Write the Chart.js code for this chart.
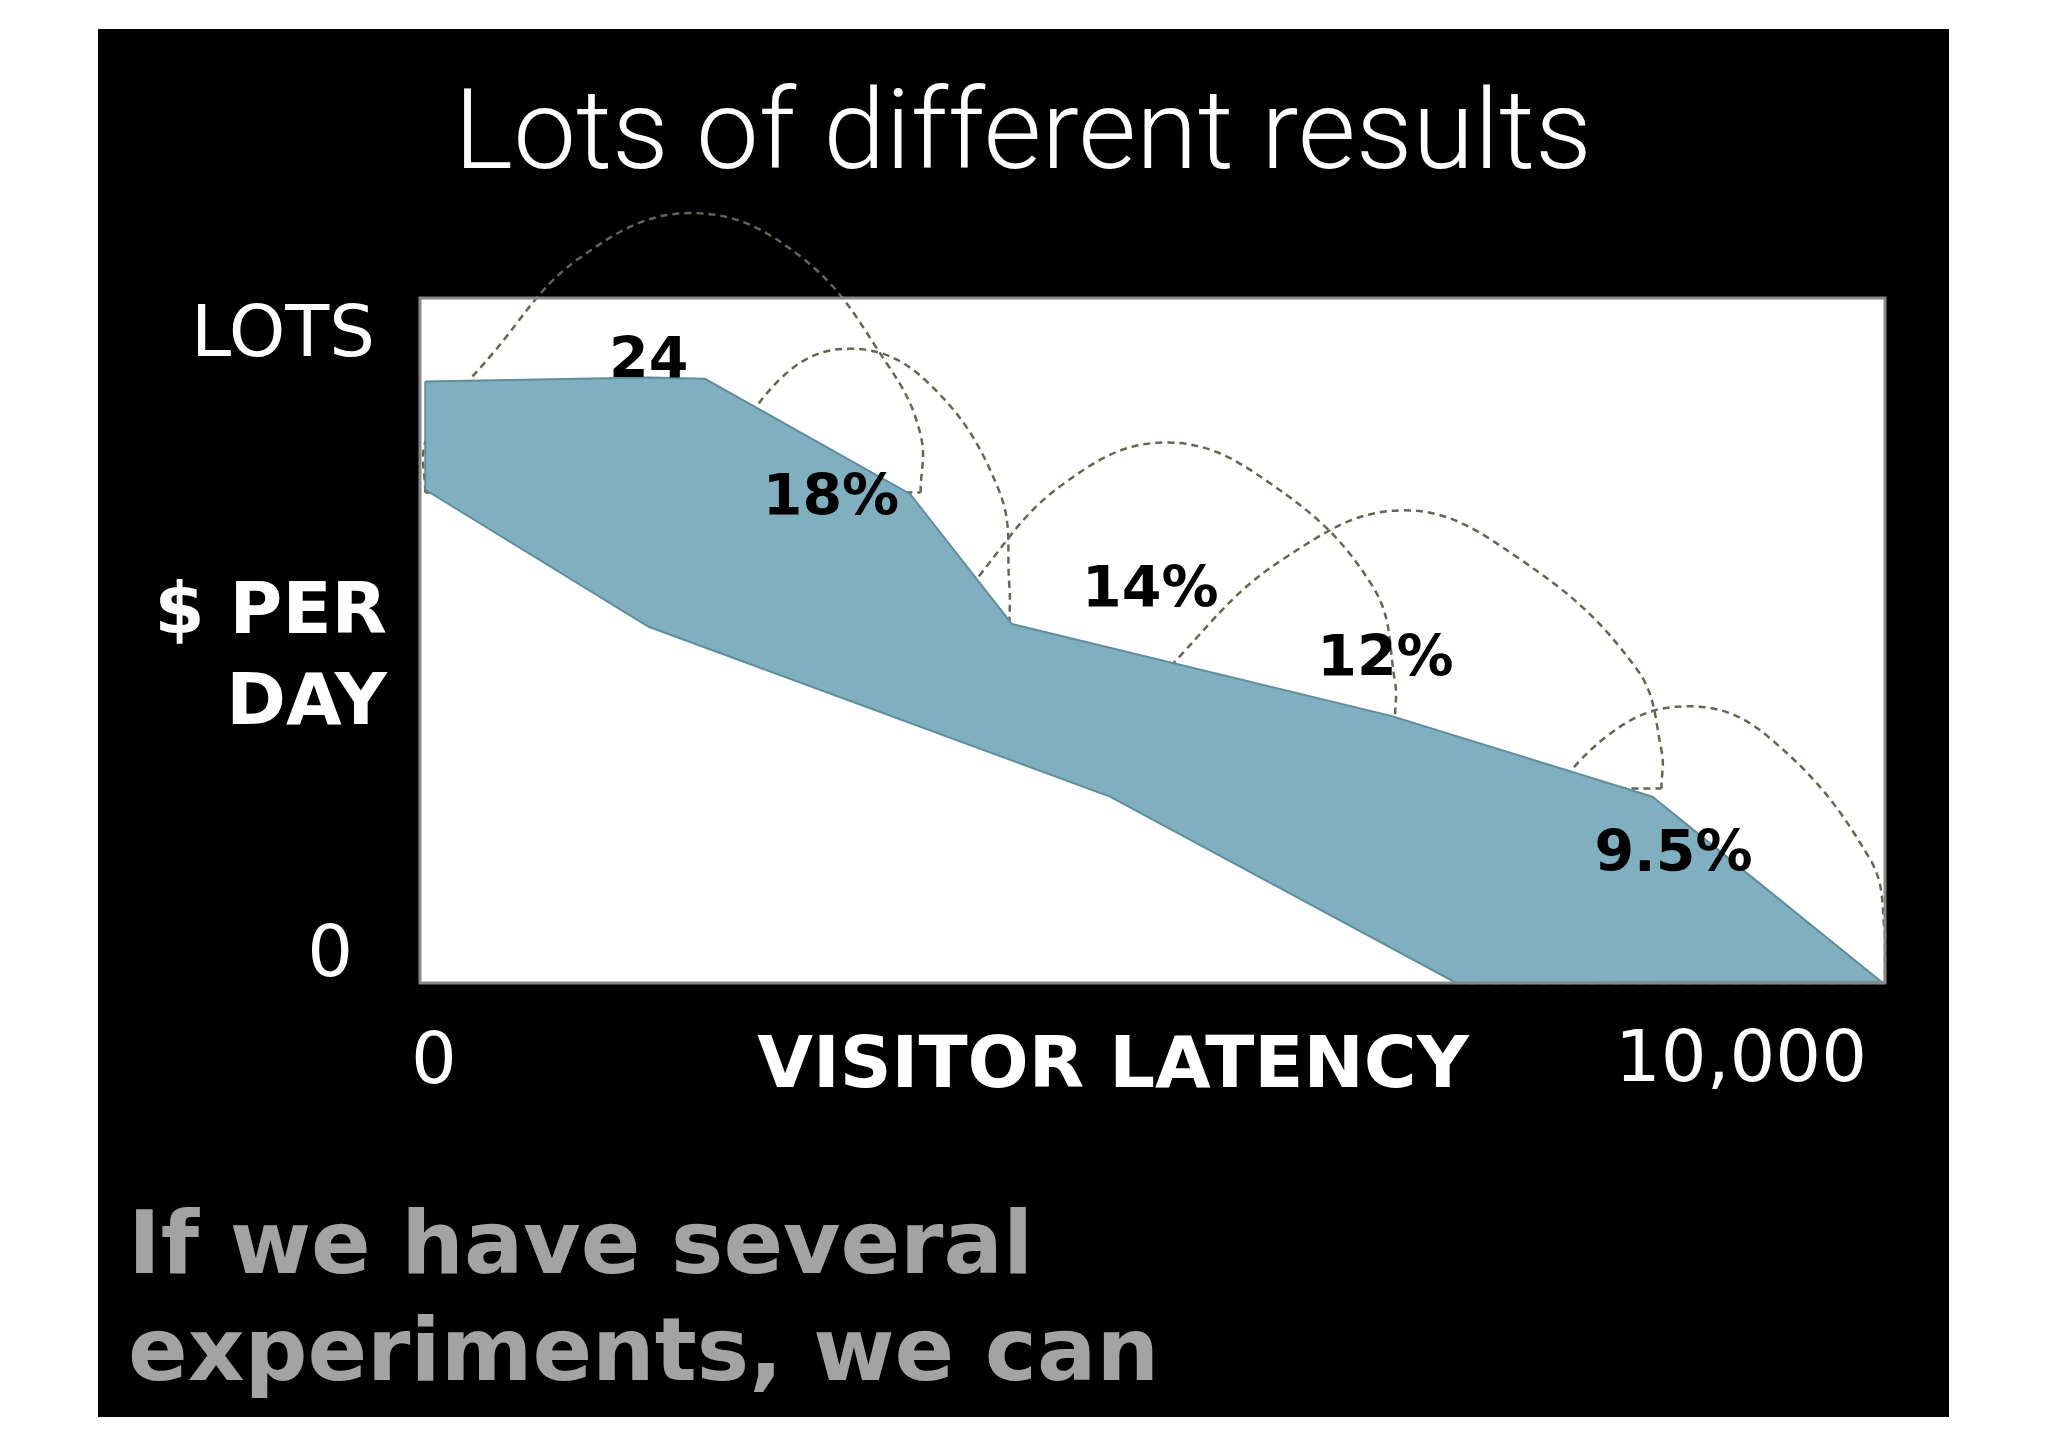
<!DOCTYPE html>
<html><head><meta charset="utf-8">
<script src="https://cdn.jsdelivr.net/npm/chart.js@4"></script>
<style>html,body{margin:0;padding:0;background:#fff}</style>
</head><body>
<canvas id="c" width="2048" height="1447"></canvas>
<script>
// Blue band (x = latency 0..10000, y = $ per day 0..100)
const bandX = [36,1561,1945,3345,4041,6628,8412,9973,7074,4710,1561,36,36];
const bandY = [87.8,88.4,88.2,71.4,52.4,39.0,27.2,0.2,0,27.2,52,72,87.8];
// Experiment bell curves
const bellX = [
 [36,36,500,1100,1855,2600,3200,3417,3417],
 [1561,1600,2000,2450,2926,3450,3950,4023,4023],
 [3283,3300,3800,4400,5093,5800,6500,6655,6655],
 [4665,4700,5200,5900,6717,7500,8300,8474,8474],
 [7074,7100,7550,8100,8653,9200,9900,10000,10000]
];
const bellY = [
 [71.6,79,92,106,112.4,106,90,80,71.6],
 [52,58,73,88,92.6,88,72,58,52],
 [38.5,44,59,73,78.9,73,58,44,38.5],
 [28.4,34,48,62,69,62,46,34,28.4],
 [0,7,22,36,40.4,36,18,7,0]
];
const pctLabels = ["24","18%","14%","12%","9.5%"];
const pctX = [1561,2805,4985,6590,8556];
const pctY = [90.5,70.5,57,47,18.5];

const pts=(xs,ys)=>xs.map((x,i)=>({x,y:ys[i]}));
const datasets=[{data:pts(bandX,bandY),fill:'shape',backgroundColor:'#80afbf',borderColor:'#5e8d9c',borderWidth:2,pointRadius:0,tension:0}];
bellX.forEach((xs,i)=>{
  datasets.push({data:pts(xs,bellY[i]),fill:false,borderColor:'#666650',borderWidth:2.5,borderDash:[7,5],pointRadius:0,tension:0.4,clip:false});
  datasets.push({data:[{x:xs[0],y:bellY[i][0]},{x:xs[xs.length-1],y:bellY[i][0]}],fill:false,borderColor:'#666650',borderWidth:2.5,borderDash:[7,5],pointRadius:0,tension:0,clip:false});
});

const deco={id:'deco',
 beforeDraw(ch){const c=ch.ctx,a=ch.chartArea;c.save();
  c.fillStyle='#fff';c.fillRect(0,0,2048,1447);
  c.fillStyle='#000';c.fillRect(98,29,1851,1388);
  c.fillStyle='#fff';c.fillRect(a.left,a.top,a.right-a.left,a.bottom-a.top);
  c.restore();},
 afterDraw(ch){const c=ch.ctx,a=ch.chartArea,xs=ch.scales.x,ys=ch.scales.y;c.save();
  c.strokeStyle='#888';c.lineWidth=3;c.strokeRect(a.left,a.top,a.right-a.left,a.bottom-a.top);
  c.textBaseline='middle';c.textAlign='center';c.fillStyle='#000';
  c.font='bold 57px "DejaVu Sans"';
  pctLabels.forEach((t,i)=>c.fillText(t,xs.getPixelForValue(pctX[i]),ys.getPixelForValue(pctY[i])));
  c.fillStyle='#fff';
  c.font='300 112px Roboto';c.fillText('Lots of different results',1023,140);
  c.textAlign='right';
  c.font='72px "DejaVu Sans"';c.fillText('LOTS',375,337);
  c.font='bold 72px "DejaVu Sans"';c.fillText('$ PER',387,614);c.fillText('DAY',387,705);
  c.font='72px "DejaVu Sans"';c.fillText('0',353,957);
  c.textAlign='center';
  c.fillText('0',434,1064);c.fillText('10,000',1741,1062);
  c.font='bold 72px "DejaVu Sans"';c.fillText('VISITOR LATENCY',1113,1068);
  c.textAlign='left';c.textBaseline='alphabetic';c.fillStyle='#a3a3a3';
  c.font='bold 88px "DejaVu Sans"';
  c.fillText('If we have several',128,1273);c.fillText('experiments, we can',128,1380);
  c.restore();}
};

new Chart(document.getElementById('c'),{type:'line',data:{datasets},
 options:{responsive:false,devicePixelRatio:1,animation:false,
  layout:{padding:{left:420,right:163,top:298,bottom:464}},
  plugins:{legend:{display:false},tooltip:{enabled:false}},
  scales:{x:{type:'linear',min:0,max:10000,display:false},y:{min:0,max:100,display:false}}},
 plugins:[deco]});
</script></body></html>
